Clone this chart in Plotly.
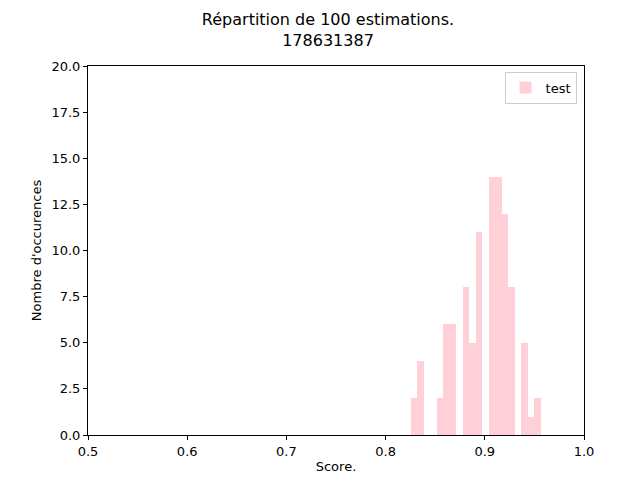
import plotly.graph_objects as go

bin_start = 0.8256
bin_width = 0.00655
counts = [2, 4, 0, 0, 2, 6, 6, 0, 8, 5, 11, 0, 14, 14, 12, 8, 0, 5, 1, 2]
centers = [bin_start + bin_width * (i + 0.5) for i in range(len(counts))]

fig = go.Figure(go.Bar(x=centers, y=counts, width=[bin_width] * len(counts),
                       marker=dict(color="rgba(255,192,203,0.75)", line_width=0),
                       name="test", showlegend=True))

ax = dict(showline=True, linecolor="black", linewidth=1, mirror=True, ticks="outside",
          ticklen=4, tickcolor="black", showgrid=False, zeroline=False, automargin=False,
          tickfont=dict(size=13))
fig.update_layout(
    width=640, height=480, plot_bgcolor="white", paper_bgcolor="white",
    font=dict(family="DejaVu Sans", size=12, color="black"),
    margin=dict(l=80, r=64, t=58, b=53, autoexpand=False),
    title=dict(text="Répartition de 100 estimations.<br>178631387", x=0.5, xanchor="center",
               y=0.965, yanchor="top", font=dict(size=16)),
    xaxis=dict(ax, range=[0.5, 1.0], dtick=0.1, tickformat=".1f", title=dict(text="Score.", standoff=4, font=dict(size=13))),
    yaxis=dict(ax, range=[0, 20], dtick=2.5, tickformat=".1f", title=dict(text="Nombre d'occurences", standoff=6, font=dict(size=13))),
    legend=dict(x=0.985, y=0.985, xanchor="right", yanchor="top", bordercolor="#cccccc",
                borderwidth=1, bgcolor="white", font=dict(size=13)),
    bargap=0,
)
fig.write_html("out.html")
